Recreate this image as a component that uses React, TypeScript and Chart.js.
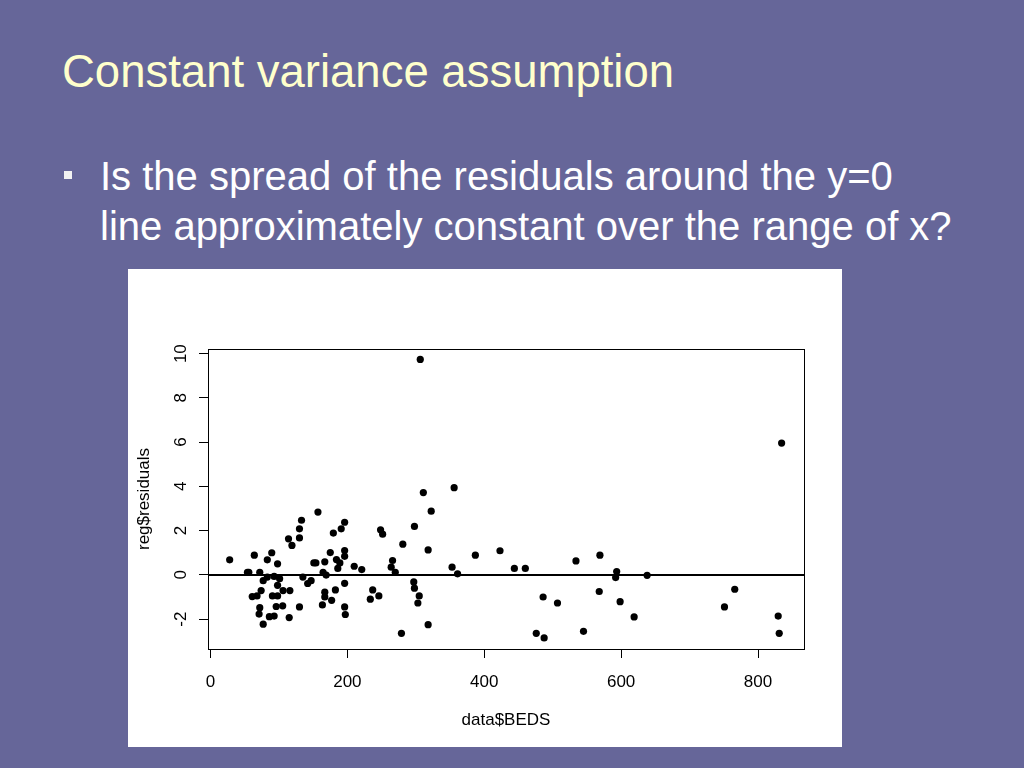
import React, { useEffect, useRef } from "react";
import { Chart, registerables } from "chart.js";

Chart.register(...registerables);

const slideTitle = "Constant variance assumption";
const bulletLines = [
  "Is the spread of the residuals around the y=0",
  "line approximately constant over the range of x?",
];
const xAxisTitle = "data$BEDS";
const yAxisTitle = "reg$residuals";
const xTicks = [0, 200, 400, 600, 800];
const yTicks = [-2, 0, 2, 4, 6, 8, 10];
const xLimits = [-3.65, 867.2];
const yLimits = [-3.35, 10.21];
const referenceY = 0;

const beds = [
  28, 54, 56, 64, 72, 61, 68, 74, 77, 72, 71, 77, 83, 83, 89.5, 98, 93, 101, 98, 90.5,
  98, 106, 116, 86, 93, 96, 105.5, 115, 114, 119, 130, 133, 130, 135, 130, 142, 147, 151, 154, 157,
  167, 175, 164.5, 169, 167, 167, 163.5, 177, 182.5, 179.5, 191, 196, 196, 196, 184, 189, 186, 196, 196, 197,
  210, 221, 237, 246, 233.5, 248.5, 251.5, 266, 264, 270, 281, 279, 306.5, 311, 356, 322.5, 298, 318, 387, 423,
  353, 361, 444, 460, 534, 569, 297, 298, 305, 303, 318, 486, 507, 476, 487.5, 545, 568, 834.5, 593.5, 592,
  638, 598.5, 619, 766, 751, 829.5, 831,
];
const residuals = [
  0.68, 0.12, 0.12, 0.89, 0.12, -0.98, -0.95, -0.71, -0.26, -1.48, -1.77, -2.23, -0.1, 0.68, 1.0, 0.5, -0.07, -0.17, -0.47, -0.95,
  -0.95, -0.71, -0.71, -1.89, -1.86, -1.43, -1.4, -1.93, 1.63, 1.33, 2.08, 2.47, 1.67, -0.1, -1.45, -0.39, -0.26, 0.54, 0.54, 2.84,
  0.59, 1.01, 0.12, -0.01, -0.78, -1.0, -1.36, -1.15, -0.68, 1.89, 2.08, 2.38, 1.1, 0.84, 0.69, 0.54, 0.29, -0.38, -1.45, -1.79,
  0.39, 0.24, -0.68, -0.95, -1.1, 2.04, 1.84, 0.65, 0.35, 0.12, 1.39, -2.64, 9.74, 3.72, 3.94, 2.88, 2.19, 1.13, 0.89, 1.09,
  0.35, 0.05, 0.29, 0.29, 0.63, 0.89, -0.32, -0.6, -0.95, -1.27, -2.25, -1.0, -1.27, -2.64, -2.85, -2.55, -0.75, 5.96, 0.15, -0.12,
  -0.02, -1.21, -1.9, -0.65, -1.45, -1.86, -2.64,
];

const FONT = "'Liberation Sans', Arial, Helvetica, sans-serif";

const boxPlugin = {
  id: "plotBox",
  afterDraw(chart: any) {
    const { ctx, chartArea } = chart;
    ctx.save();
    ctx.strokeStyle = "#000";
    ctx.lineWidth = 1;
    ctx.strokeRect(
      Math.round(chartArea.left) + 0.5,
      Math.round(chartArea.top) + 0.5,
      Math.round(chartArea.right - chartArea.left),
      Math.round(chartArea.bottom - chartArea.top)
    );
    ctx.restore();
  },
};

function ResidualPlot() {
  const ref = useRef<HTMLCanvasElement | null>(null);
  useEffect(() => {
    if (!ref.current) return;
    const font = { family: FONT, size: 17 };
    const chart = new Chart(ref.current, {
      type: "scatter",
      data: {
        datasets: [
          {
            type: "scatter",
            data: beds.map((b, i) => ({ x: b, y: residuals[i] })),
            backgroundColor: "#000",
            borderColor: "#000",
            borderWidth: 0,
            pointRadius: 3.6,
            order: 2,
          } as any,
          {
            type: "line",
            data: [
              { x: xLimits[0], y: referenceY },
              { x: xLimits[1], y: referenceY },
            ],
            borderColor: "#000",
            borderWidth: 2,
            pointRadius: 0,
            fill: false,
            order: 1,
          } as any,
        ],
      },
      options: {
        responsive: false,
        animation: false,
        events: [],
        layout: { padding: { left: 0, top: 80, right: 38, bottom: 0 } },
        plugins: { legend: { display: false }, tooltip: { enabled: false } },
        scales: {
          x: {
            type: "linear",
            min: xLimits[0],
            max: xLimits[1],
            afterBuildTicks: (s: any) => {
              s.ticks = xTicks.map((v) => ({ value: v }));
            },
            afterFit: (s: any) => {
              s.height = 98;
            },
            ticks: { font, color: "#000", padding: 14, maxRotation: 0, autoSkip: false, callback: (v: any) => String(v) },
            grid: { drawOnChartArea: false, drawTicks: true, tickLength: 9, color: "#000", lineWidth: 1 },
            border: { display: true, color: "#000", width: 1 },
            title: { display: true, text: xAxisTitle, font, color: "#000", padding: { top: 0, bottom: 16 } },
          },
          y: {
            type: "linear",
            min: yLimits[0],
            max: yLimits[1],
            afterBuildTicks: (s: any) => {
              s.ticks = yTicks.map((v) => ({ value: v }));
            },
            afterFit: (s: any) => {
              s.width = 80;
            },
            ticks: {
              font,
              color: "#000",
              padding: 8,
              minRotation: 90,
              maxRotation: 90,
              crossAlign: "center",
              autoSkip: false,
              callback: (v: any) => String(v),
            },
            grid: { drawOnChartArea: false, drawTicks: true, tickLength: 9, color: "#000", lineWidth: 1 },
            border: { display: true, color: "#000", width: 1 },
            title: { display: true, text: yAxisTitle, font, color: "#000", padding: { top: 6, bottom: 0 } },
          },
        },
      } as any,
      plugins: [boxPlugin],
    });
    return () => chart.destroy();
  }, []);
  return <canvas ref={ref} width={714} height={478} style={{ width: 714, height: 478, display: "block" }} />;
}

export default function App() {
  return (
    <div
      style={{
        position: "fixed",
        left: 0,
        top: 0,
        width: 1024,
        height: 768,
        background: "#666699",
        overflow: "hidden",
        fontFamily: FONT,
      }}
    >
      <div
        style={{
          position: "absolute",
          left: 62,
          top: 49,
          fontSize: 45.5,
          lineHeight: "45.5px",
          color: "#FFFFCC",
          whiteSpace: "nowrap",
        }}
      >
        {slideTitle}
      </div>
      <div
        style={{
          position: "absolute",
          left: 64,
          top: 171,
          width: 8,
          height: 8,
          background: "#F2F2F2",
        }}
      />
      <div
        style={{
          position: "absolute",
          left: 100,
          top: 151,
          fontSize: 40,
          lineHeight: "50px",
          color: "#FFFFFF",
          whiteSpace: "nowrap",
        }}
      >
        {bulletLines.map((l, i) => (
          <div key={i}>{l}</div>
        ))}
      </div>
      <div
        style={{
          position: "absolute",
          left: 128,
          top: 269,
          width: 714,
          height: 478,
          background: "#FFFFFF",
        }}
      >
        <ResidualPlot />
      </div>
    </div>
  );
}
